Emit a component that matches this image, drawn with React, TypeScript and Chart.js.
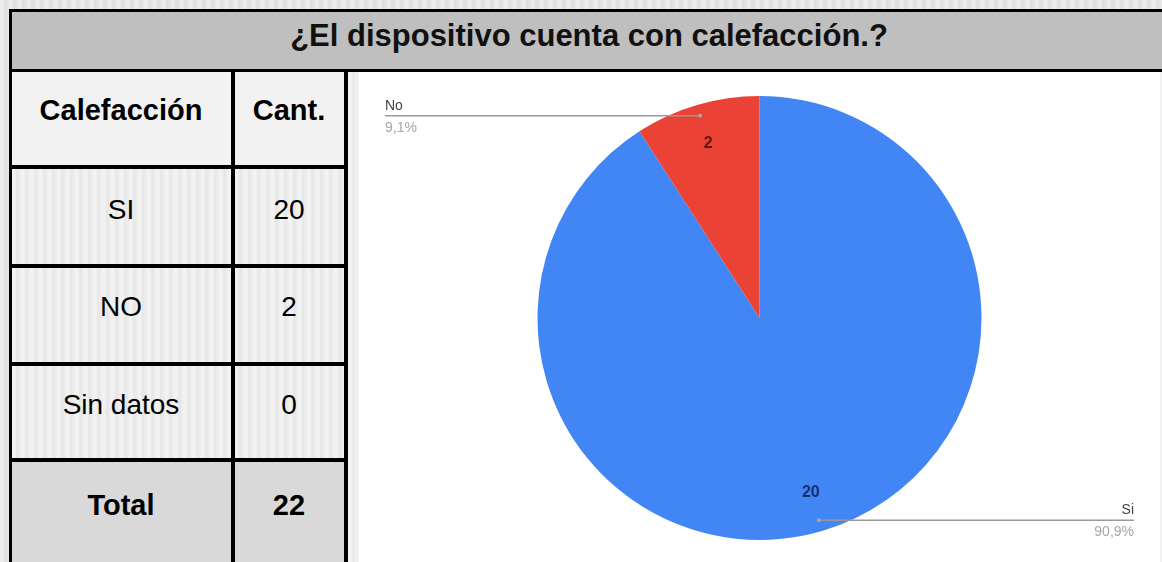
import React, { useEffect, useRef } from "react";
import { Chart, registerables } from "chart.js";

Chart.register(...registerables);

const title = "¿El dispositivo cuenta con calefacción.?";
const headerLabel = "Calefacción";
const headerCount = "Cant.";
const tableLabels = ["SI", "NO", "Sin datos"];
const tableCounts = [20, 2, 0];
const totalLabel = "Total";

const categories = ["Si", "No"];
const values = [20, 2];
const sliceColors = ["#4285f4", "#ea4335"];
const valueTextColors = ["#15306a", "#5e1610"];

const FONT = '"Liberation Sans", Arial, Helvetica, sans-serif';

const labelPlugin = {
  id: "pieLabels",
  afterDatasetsDraw(chart: any) {
    const ctx = chart.ctx;
    const meta = chart.getDatasetMeta(0);
    const total = values.reduce((a, b) => a + b, 0);
    const area = chart.chartArea;
    meta.data.forEach((arc: any, i: number) => {
      const p = arc.getProps(["x", "y", "startAngle", "endAngle", "outerRadius"], true);
      const mid = (p.startAngle + p.endAngle) / 2;
      const c = Math.cos(mid);
      const s = Math.sin(mid);
      ctx.save();
      // value inside slice
      const ir = p.outerRadius * 0.82;
      ctx.font = `bold 16px ${FONT}`;
      ctx.fillStyle = valueTextColors[i];
      ctx.textAlign = "center";
      ctx.textBaseline = "middle";
      ctx.fillText(String(values[i]), p.x + c * ir, p.y + s * ir);
      // leader line
      const dr = p.outerRadius * 0.95;
      const dx = p.x + c * dr;
      const dy = p.y + s * dr;
      const left = c < 0;
      const endX = left ? area.left + 2 : area.right - 2;
      ctx.strokeStyle = "#9a9a9a";
      ctx.lineWidth = 1.5;
      ctx.beginPath();
      ctx.moveTo(dx, dy);
      ctx.lineTo(endX, dy);
      ctx.stroke();
      ctx.fillStyle = "#a8a8a8";
      ctx.beginPath();
      ctx.arc(dx, dy, 2, 0, Math.PI * 2);
      ctx.fill();
      // texts
      ctx.textAlign = left ? "left" : "right";
      ctx.font = `14px ${FONT}`;
      ctx.fillStyle = "#444444";
      ctx.textBaseline = "bottom";
      ctx.fillText(categories[i], endX, dy - 3);
      ctx.fillStyle = "#a6a6a6";
      ctx.textBaseline = "top";
      const pct = ((values[i] / total) * 100).toFixed(1).replace(".", ",") + "%";
      ctx.fillText(pct, endX, dy + 5);
      ctx.restore();
    });
  },
};

function PieChart() {
  const ref = useRef<HTMLCanvasElement>(null);
  useEffect(() => {
    if (!ref.current) return;
    const chart = new Chart(ref.current, {
      type: "pie",
      data: {
        labels: categories,
        datasets: [
          {
            data: values,
            backgroundColor: sliceColors,
            borderWidth: 0,
          },
        ],
      },
      options: {
        responsive: false,
        animation: false,
        layout: { padding: 24 },
        plugins: {
          legend: { display: false },
          tooltip: { enabled: false },
        },
      },
      plugins: [labelPlugin],
    });
    return () => chart.destroy();
  }, []);
  return <canvas ref={ref} width={801} height={492} style={{ display: "block", width: 801, height: 492 }} />;
}

const stripes =
  "repeating-linear-gradient(90deg, rgba(255,255,255,0.35) 0px, rgba(255,255,255,0.35) 3px, rgba(0,0,0,0.025) 5px, rgba(255,255,255,0.2) 9px)";

function Box(props: { x: number; y: number; w: number; h: number; bg: string; img?: string }) {
  return (
    <div
      style={{
        position: "absolute",
        left: props.x,
        top: props.y,
        width: props.w,
        height: props.h,
        background: props.img ? `${props.img}, ${props.bg}` : props.bg,
      }}
    />
  );
}

function Txt(props: { cx: number; cy: number; text: string | number; bold?: boolean; size?: number; color?: string }) {
  return (
    <div
      style={{
        position: "absolute",
        left: props.cx - 400,
        top: props.cy - 20,
        width: 800,
        height: 40,
        display: "flex",
        alignItems: "center",
        justifyContent: "center",
        fontFamily: FONT,
        fontWeight: props.bold ? 700 : 400,
        fontSize: props.size || 28,
        color: props.color || "#000",
        whiteSpace: "nowrap",
      }}
    >
      {props.text}
    </div>
  );
}

export default function App() {
  const total = tableCounts.reduce((a, b) => a + b, 0);
  const rowTops = [169, 268, 366];
  const rowHeights = [95, 94, 92];
  const rowCenters = [210, 307, 405];
  return (
    <div
      style={{
        position: "fixed",
        left: 0,
        top: 0,
        width: 1162,
        height: 562,
        overflow: "hidden",
        background: `${stripes}, #e2e2e2`,
      }}
    >
      {/* black frame */}
      <Box x={9} y={9} w={1160} h={560} bg="#000" />
      {/* title */}
      <Box x={12} y={12} w={1160} h={57} bg="#bfbfbf" />
      <Txt cx={589} cy={36} text={title} bold size={31} color="#111" />
      {/* header row */}
      <Box x={12} y={72} w={219} h={93} bg="#f2f2f2" />
      <Box x={235} y={72} w={109} h={93} bg="#f2f2f2" />
      <Txt cx={121} cy={110} text={headerLabel} bold size={29} />
      <Txt cx={289} cy={110} text={headerCount} bold size={29} />
      {/* data rows */}
      {tableLabels.map((lab, i) => (
        <React.Fragment key={lab}>
          <Box x={12} y={rowTops[i]} w={219} h={rowHeights[i]} bg="#ebebeb" img={stripes} />
          <Box x={235} y={rowTops[i]} w={109} h={rowHeights[i]} bg="#ebebeb" img={stripes} />
          <Txt cx={121} cy={rowCenters[i]} text={lab} />
          <Txt cx={289} cy={rowCenters[i]} text={tableCounts[i]} />
        </React.Fragment>
      ))}
      {/* total row */}
      <Box x={12} y={462} w={219} h={110} bg="#d9d9d9" />
      <Box x={235} y={462} w={109} h={110} bg="#d9d9d9" />
      <Txt cx={121} cy={505} text={totalLabel} bold size={29} />
      <Txt cx={289} cy={505} text={total} bold size={29} />
      {/* chart cell */}
      <Box x={348} y={72} w={830} h={500} bg="#eeeeee" img={stripes} />
      <div style={{ position: "absolute", left: 359, top: 72, width: 801, height: 492, background: "#fff" }}>
        <PieChart />
      </div>
    </div>
  );
}
